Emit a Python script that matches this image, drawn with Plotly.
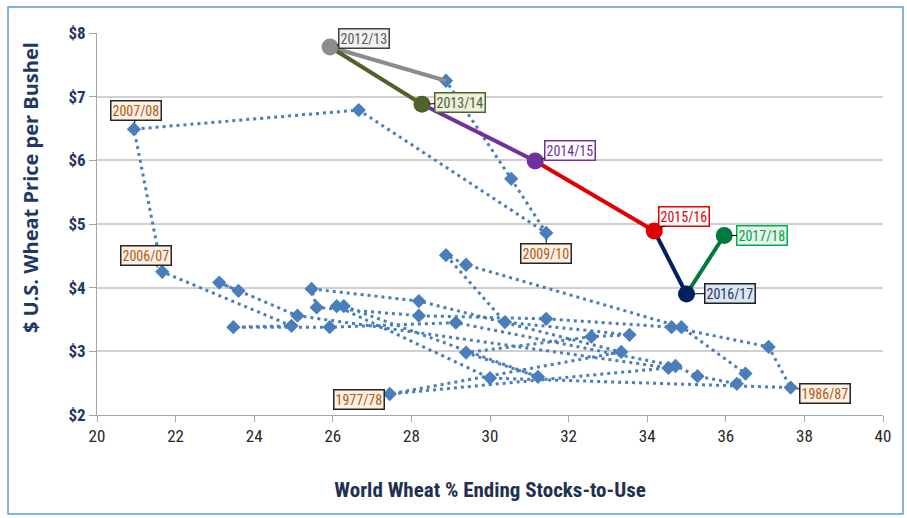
import plotly.graph_objects as go

# Marketing years 1973/74 - 2011/12: world stocks-to-use (%) and U.S. price ($/bu)
hist_years = ["1973/74", "1974/75", "1975/76", "1976/77", "1977/78", "1978/79", "1979/80",
              "1980/81", "1981/82", "1982/83", "1983/84", "1984/85", "1985/86", "1986/87",
              "1987/88", "1988/89", "1989/90", "1990/91", "1991/92", "1992/93", "1993/94",
              "1994/95", "1995/96", "1996/97", "1997/98", "1998/99", "1999/00", "2000/01",
              "2001/02", "2002/03", "2003/04", "2004/05", "2005/06", "2006/07", "2007/08",
              "2008/09", "2009/10", "2010/11", "2011/12"]
hist_stu = [23.60, 23.11, 25.10, 34.54, 27.45, 33.34, 28.19, 25.46, 25.59, 28.19, 31.43,
            34.62, 37.09, 37.65, 30.00, 26.10, 26.28, 31.22, 29.39, 32.58, 33.55, 30.38,
            28.88, 29.39, 34.87, 36.50, 36.28, 35.28, 34.72, 29.13, 25.92, 23.47, 24.95,
            21.66, 20.94, 26.66, 31.43, 30.54, 28.88]
hist_price = [3.95, 4.08, 3.56, 2.74, 2.33, 2.99, 3.79, 3.98, 3.69, 3.56, 3.51, 3.38, 3.07,
              2.43, 2.58, 3.71, 3.71, 2.60, 2.98, 3.23, 3.26, 3.46, 4.51, 4.36, 3.38, 2.65,
              2.49, 2.61, 2.77, 3.45, 3.38, 3.38, 3.40, 4.25, 6.49, 6.79, 4.86, 5.71, 7.25]

# Recent years, each reached by its own coloured segment
recent_years = ["2011/12", "2012/13", "2013/14", "2014/15", "2015/16", "2016/17", "2017/18"]
recent_stu = [28.88, 25.93, 28.27, 31.15, 34.18, 35.00, 35.96]
recent_price = [7.25, 7.78, 6.88, 5.99, 4.89, 3.90, 4.82]
recent_colors = [None, "#8c8c8c", "#4f6228", "#7030a0", "#e00000", "#002060", "#007a3d"]
recent_fill = [None, "#f2f2f2", "#ebf1de", "#ffffff", "#ffffff", "#dce6f2", "#e6f4ea"]
recent_text = [None, "#595959", "#4f6228", "#7030a0", "#e00000", "#1f3864", "#00a050"]
recent_edge = [None, "#404040", "#4f6228", "#7030a0", "#e00000", "#202020", "#00b050"]
recent_offsets = [None, (34, -9), (38, -2), (35, -10), (30, -15), (43, -1), (38, 0)]

# Highlighted historical years and their label offsets (px)
hist_labels = {"2007/08": (2, -19), "2006/07": (-16, -16), "2009/10": (0, 21),
               "1977/78": (-31, 6), "1986/87": (34, 6)}

x_ticks = list(range(20, 41, 2))
y_ticks = [2, 3, 4, 5, 6, 7, 8]
y_tick_text = ["$" + str(v) for v in y_ticks]

FONT = "Liberation Sans Narrow, Arial Narrow, Roboto Condensed, sans-serif"
HIST_BLUE = "#4a7ebb"

fig = go.Figure()

fig.add_trace(go.Scatter(
    x=hist_stu, y=hist_price, mode="lines+markers",
    line=dict(color=HIST_BLUE, width=3, dash="3px,4px"),
    marker=dict(symbol="diamond", size=11, color=HIST_BLUE),
    text=hist_years, hoverinfo="text+x+y", showlegend=False,
))

for i in range(1, len(recent_years)):
    fig.add_trace(go.Scatter(
        x=[recent_stu[i - 1], recent_stu[i]], y=[recent_price[i - 1], recent_price[i]],
        mode="lines", line=dict(color=recent_colors[i], width=4),
        hoverinfo="skip", showlegend=False,
    ))
for i in range(1, len(recent_years)):
    fig.add_trace(go.Scatter(
        x=[recent_stu[i]], y=[recent_price[i]], mode="markers",
        marker=dict(symbol="circle", size=17, color=recent_colors[i]),
        text=[recent_years[i]], hoverinfo="text+x+y", showlegend=False,
    ))

annotations = []
for i in range(1, len(recent_years)):
    ax, ay = recent_offsets[i]
    annotations.append(dict(
        x=recent_stu[i], y=recent_price[i], xref="x", yref="y",
        text=recent_years[i], showarrow=True, arrowhead=0, arrowwidth=1,
        arrowcolor="#000000", standoff=7, ax=ax, ay=ay,
        font=dict(family=FONT, size=14, color=recent_text[i]),
        bgcolor=recent_fill[i], bordercolor=recent_edge[i], borderwidth=1.5, borderpad=1,
    ))
for yr, (ax, ay) in hist_labels.items():
    k = hist_years.index(yr)
    annotations.append(dict(
        x=hist_stu[k], y=hist_price[k], xref="x", yref="y",
        text=yr, showarrow=True, arrowhead=0, arrowwidth=1,
        arrowcolor="#000000", standoff=6, ax=ax, ay=ay,
        font=dict(family=FONT, size=14, color="#b35a10"),
        bgcolor="#fdf1e6", bordercolor="#262626", borderwidth=1.5, borderpad=1,
    ))

# Vertical axis title, set slightly above the plot's centre
annotations.append(dict(
    x=-0.0852, y=0.594, xref="paper", yref="paper", showarrow=False,
    text="<b>$ U.S. Wheat Price per Bushel</b>", textangle=-90,
    xanchor="center", yanchor="middle",
    font=dict(family="Open Sans, sans-serif", size=20, color="#1f3864"),
))

fig.update_layout(
    width=907, height=518,
    margin=dict(l=97, r=24, t=33, b=103),
    paper_bgcolor="#ffffff", plot_bgcolor="#ffffff",
    font=dict(family=FONT),
    annotations=annotations,
    shapes=[dict(type="rect", xref="paper", yref="paper",
                 x0=-0.1132, x1=1.0254, y0=-0.259, y1=1.068,
                 line=dict(color="#5b9bd5", width=1.5), fillcolor="rgba(0,0,0,0)",
                 layer="below")],
    xaxis=dict(
        range=[20, 40], tickvals=x_ticks, ticktext=[str(v) for v in x_ticks],
        showgrid=False, zeroline=False, showline=True, linecolor="#a6a6a6", linewidth=1,
        ticks="outside", ticklen=6, tickcolor="#a6a6a6",
        tickfont=dict(family=FONT, size=17, color="#262626"),
        title=dict(text="<b>World Wheat % Ending Stocks-to-Use</b>", standoff=36,
                   font=dict(family=FONT, size=21, color="#1f3050")),
    ),
    yaxis=dict(
        range=[2, 8], tickvals=y_ticks, ticktext=["<b>" + t + "</b>" for t in y_tick_text],
        showgrid=True, gridcolor="#d0d0d0", gridwidth=1.5, zeroline=False,
        showline=True, linecolor="#a6a6a6", linewidth=1,
        ticks="outside", ticklen=7, tickcolor="#a6a6a6",
        tickfont=dict(family=FONT, size=17, color="#1f3864"),
    ),
)

fig.write_html("out.html")
